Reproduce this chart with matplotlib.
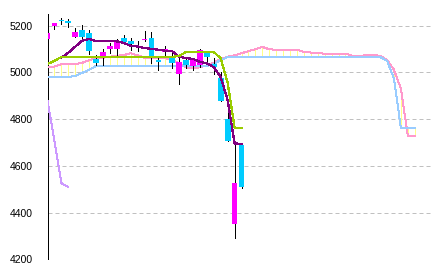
import matplotlib
matplotlib.use('Agg')
import matplotlib.pyplot as plt
import numpy as np

# daily candles (magenta = up, cyan = down)
opens = [5143, 5199, 5226, 5221, 5152, 5183, 5170, 5057, 5068, 5101,
         5101, 5149, 5136, 5113, 5137, 5149, 5051, 5088, 5071, 4995,
         5053, 5028, 5033, 5084, 5038, 4974, 4801, 4352, 4689]
highs = [5169, 5212, 5233, 5230, 5190, 5203, 5183, 5076, 5100, 5128,
         5143, 5161, 5147, 5133, 5179, 5175, 5068, 5115, 5083, 5064,
         5067, 5061, 5100, 5087, 5061, 5000, 4857, 4692, 4689]
lows = [5143, 5187, 5209, 5196, 5150, 5148, 5080, 5030, 5033, 5083,
        5076, 5130, 5097, 5090, 5133, 5040, 5011, 5076, 5018, 4950,
        5018, 5011, 5025, 5047, 4995, 4879, 4708, 4291, 4506]
closes = [5169, 5212, 5221, 5212, 5173, 5150, 5090, 5041, 5088, 5115,
          5129, 5131, 5120, 5109, 5141, 5060, 5044, 5101, 5040, 5045,
          5033, 5051, 5094, 5064, 5023, 4879, 4708, 4526, 4509]

# conversion line (starts at the 3rd candle) and base line
tenkan = [5063, 5084, 5110, 5136, 5143, 5133, 5133, 5133, 5133, 5126,
          5114, 5111, 5104, 5101, 5097, 5093, 5090, 5067, 5061, 5058,
          5045, 5039, 5022, 4980, 4880, 4696, 4694]
kijun = [5036, 5050, 5066, 5066, 5066, 5066, 5066, 5066, 5066, 5066,
         5066, 5066, 5066, 5066, 5066, 5066, 5066, 5066, 5066, 5071,
         5087, 5087, 5087, 5087, 5087, 5060, 4955, 4764, 4761]

# leading spans (cloud), 25 bars ahead
span_a = [5025, 5025, 5035, 5036, 5036, 5041, 5052, 5061, 5063, 5067,
          5071, 5074, 5082, 5073, 5063, 5063, 5061, 5061, 5054, 5037,
          5022, 5018, 5022, 5030, 5041, 5058, 5067, 5073, 5082, 5091,
          5099, 5109, 5099, 5097, 5097, 5097, 5097, 5088, 5085, 5083,
          5080, 5080, 5080, 5080, 5071, 5069, 5074, 5074, 5071, 5054,
          5011, 4930, 4728, 4728]
span_b = [4980, 4980, 4980, 4980, 4985, 4998, 5011, 5028, 5028, 5028,
          5028, 5028, 5028, 5028, 5028, 5028, 5028, 5028, 5028, 5028,
          5028, 5028, 5028, 5028, 5035, 5054, 5065, 5066, 5066, 5066,
          5066, 5066, 5066, 5066, 5066, 5066, 5066, 5066, 5066, 5066,
          5066, 5066, 5066, 5066, 5066, 5066, 5066, 5066, 5066, 5050,
          4973, 4761, 4761, 4761]
lag = 25

yticks = [4200, 4400, 4600, 4800, 5000, 5200]

px = 0.72  # one pixel in points

fig = plt.figure(figsize=(4.33, 2.73), dpi=100)
ax = fig.add_axes([47.5 / 433, 13.7 / 273, 1 - 47.5 / 433, 245.3 / 273])

x = np.arange(len(closes))
xf = np.arange(len(span_a))
o = np.array(opens)
c = np.array(closes)

# cloud: pale yellow verticals + the two spans
ax.vlines(xf, span_a, span_b, color='#ffff88', lw=px, antialiased=False, zorder=2)
ax.plot(xf, span_a, color='#ff99cc', lw=px, antialiased=False, zorder=3)
ax.plot(xf, span_b, color='#99ccff', lw=px, antialiased=False, zorder=3)

# lagging span
ax.plot(x[:len(closes) - lag], closes[lag:], color='#cc99ff', lw=px,
        antialiased=False, zorder=3)

# candles
cols = ['#ff00ff' if cc >= oo else '#00ccff' for oo, cc in zip(o, c)]
ax.vlines(x, lows, highs, color='black', lw=px, antialiased=False, zorder=4)
ax.bar(x, np.abs(c - o), bottom=np.minimum(o, c), width=0.82, color=cols,
       antialiased=False, zorder=5)

# conversion / base lines
ax.plot(x[2:], tenkan, color='#800080', lw=0.9, antialiased=False, zorder=6)
ax.plot(x, kijun, color='#99cc00', lw=0.9, antialiased=False, zorder=6)

ax.set_xlim(0, (433 - 47.5) / 6.93)
ax.set_ylim(4200, 5250)
ax.set_yticks(yticks)
ax.set_yticklabels([str(t) for t in yticks], fontfamily='Liberation Sans', fontsize=7.5)
ax.set_xticks([])
ax.tick_params(axis='y', length=0, pad=10.8)
ax.yaxis.grid(True, color='#c0c0c0', linestyle=(0, (4, 3)), linewidth=px)
ax.set_axisbelow(True)
for s in ['top', 'right', 'bottom']:
    ax.spines[s].set_visible(False)
ax.spines['left'].set_linewidth(px)

fig.savefig('out.png', dpi=100)
